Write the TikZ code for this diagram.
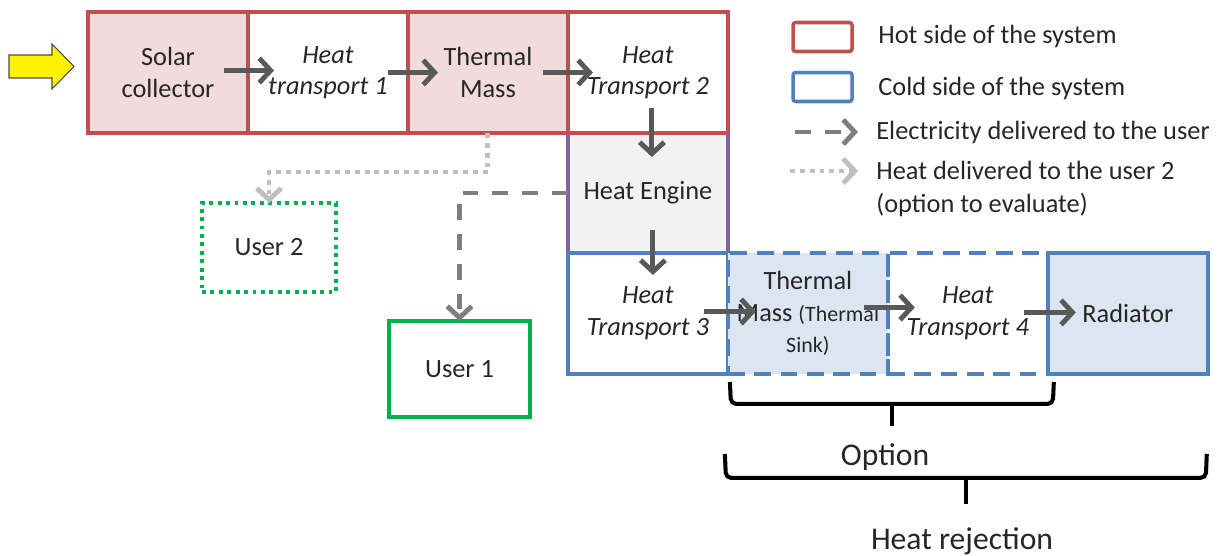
\documentclass[tikz,border=0pt]{standalone}
\usepackage{fontspec}
\setmainfont{Carlito}
\usetikzlibrary{calc,positioning,arrows.meta}

\definecolor{hotred}{HTML}{C0504D}
\definecolor{hotfill}{HTML}{F2DCDB}
\definecolor{coldblue}{HTML}{4F81BD}
\definecolor{coldfill}{HTML}{DCE6F2}
\definecolor{engfill}{HTML}{F2F2F2}
\definecolor{engpurple}{HTML}{8064A2}
\definecolor{usergreen}{HTML}{00B050}
\definecolor{flowgray}{HTML}{595959}
\definecolor{elecgray}{HTML}{7F7F7F}
\definecolor{heatgray}{HTML}{BFBFBF}
\definecolor{txt}{HTML}{262626}

\tikzset{
  >={Straight Barb[length=6.5pt,width=14pt]},
  block/.style={
    rectangle,
    outer sep=0pt, inner sep=2pt,
    minimum width=3.2cm,
    minimum height=2.42cm,
    align=center,
    text=txt,
    font=\fontsize{15}{18}\selectfont,
    line width=2pt},
  hotblock/.style={block, draw=hotred},
  coldblock/.style={block, draw=coldblue},
  optblock/.style={coldblock, dash pattern=on 9.5pt off 5.5pt},
  flow/.style={->, draw=flowgray, line width=2.8pt},
  elecline/.style={->, draw=elecgray, line width=2.8pt, dash pattern=on 9pt off 8pt},
  heatline/.style={->, draw=heatgray, line width=2.8pt, dash pattern=on 2.8pt off 2.8pt},
  userbox/.style={rectangle, draw=usergreen, outer sep=0pt, text=txt,
    font=\fontsize{15}{18}\selectfont},
  legendtext/.style={anchor=west, align=left, text=txt, inner sep=0pt,
    font=\fontsize{15}{19}\selectfont},
  legendbox/.style={rectangle, rounded corners=1.5pt, line width=2pt,
    minimum width=1.18cm, minimum height=0.58cm, outer sep=0pt},
  bracket/.style={draw=black, line width=2.3pt, rounded corners=3pt},
  bracelabel/.style={text=txt, font=\fontsize{18}{20}\selectfont},
}

\begin{document}
\begin{tikzpicture}
[
x=0.02cm, y=-0.02cm,
sunarrow/.style={draw=black!70, fill=yellow, line width=0.6pt, line join=miter},
]
\useasboundingbox (0,0) rectangle (1219,555);

%Nodes
\node[hotblock, fill=hotfill]   (solar)   at (168,72.5) {Solar\\collector};
\node[hotblock]                 (ht1)     [right=0pt of solar] {\textit{Heat}\\\textit{transport 1}};
\node[hotblock, fill=hotfill]   (tmass)   [right=0pt of ht1] {Thermal\\Mass};
\node[hotblock]                 (ht2)     [right=0pt of tmass] {\textit{Heat}\\\textit{Transport 2}};
\node[block, fill=engfill, minimum height=2.4cm] (engine) [below=0pt of ht2] {Heat Engine};
\node[coldblock, fill=white]    (ht3)     [below=0pt of engine] {\textit{Heat}\\\textit{Transport 3}};
\node[optblock, fill=coldfill]  (sink)    [right=0pt of ht3] {Thermal\\Mass {\fontsize{12.5}{15}\selectfont(Thermal}\\{\fontsize{12.5}{15}\selectfont Sink)}};
\node[optblock]                 (ht4)     [right=0pt of sink] {\textit{Heat}\\\textit{Transport 4}};
\node[coldblock, fill=coldfill] (radiator) [right=0pt of ht4] {Radiator};

\node[userbox, line width=2.2pt, dash pattern=on 2.2pt off 2.6pt,
  minimum width=2.68cm, minimum height=1.78cm] (user2) at (269,247.5) {User 2};
\node[userbox, line width=2pt,
  minimum width=2.82cm, minimum height=1.92cm] (user1) at (459.5,369) {User 1};

% legend
\node[legendbox, draw=hotred]   (hotkey)  at (822.5,37) {};
\node[legendbox, draw=coldblue] (coldkey) at (822.5,87) {};
\node[legendtext] (hotlabel)  at (878,36)  {Hot side of the system};
\node[legendtext] (coldlabel) at (878,88)  {Cold side of the system};
\node[legendtext] (eleclabel) at (876,132) {Electricity delivered to the user};
\node[legendtext] (heatlabel) at (876,189) {Heat delivered to the user 2\\(option to evaluate)};

\node[bracelabel] (optlabel) at (885,457) {Option};
\node[bracelabel] (rejlabel) at (962,541) {Heat rejection};

%Lines
\draw[sunarrow] (9,55) -- (52,55) -- (52,44) -- (74,66.5) -- (52,89)
  -- (52,78) -- (9,78) -- cycle;

\draw[engpurple, line width=2pt] (engine.north west) -- (engine.south west)
  (engine.north east) -- (engine.south east);
\draw[hotred, line width=2pt] (ht2.south west) -- (ht2.south east);
\draw[coldblue, line width=2pt] (ht3.north west) -- (ht3.north east);

\draw[flow] ($(solar.east)+(-24,-2)$) -- ($(ht1.west)+(26,-2)$);
\draw[flow] ($(ht1.east)+(-20,0)$)  -- ($(tmass.west)+(30,0)$);
\draw[flow] ($(tmass.east)+(-25,0)$) -- ($(ht2.west)+(25,0)$);
\draw[flow] ($(ht2.south)+(4,-25)$) -- ($(engine.north)+(4,24)$);
\draw[flow] ($(engine.south)+(5,-23)$) -- ($(ht3.north)+(5,22)$);
\draw[flow] ($(ht3.east)+(-24,-2)$) -- ($(sink.west)+(28,-2)$);
\draw[flow] ($(sink.east)+(-24,-6)$) -- ($(ht4.west)+(27,-6)$);
\draw[flow] ($(ht4.east)+(-24,-1)$) -- ($(radiator.west)+(28,-1)$);

\draw[elecline] (engine.west) -| (user1.north);
\draw[heatline] (tmass.south) -- ++(0,39) -| (user2.north);

\draw[elecline] ($(eleclabel.west)+(-81,0)$) -- ($(eleclabel.west)+(-18,0)$);
\draw[heatline] ($(heatlabel.west)+(-86,-18)$) -- ($(heatlabel.west)+(-18,-18)$);

% braces
\coordinate (optL) at ($(sink.south west)+(2,8)$);
\coordinate (optR) at ($(ht4.south east)+(6,8)$);
\draw[bracket] (optL) -- ++(1,22) -- ($(optR)+(-1,22)$) -- (optR);
\draw[bracket] ($(optL)!0.5!(optR)+(0,20)$) -- ++(0,24);

\coordinate (rejL) at ($(ht3.south east)+(-3,80)$);
\coordinate (rejR) at ($(radiator.south east)+(-1,80)$);
\draw[bracket] (rejL) -- ++(1,24) -- ($(rejR)+(-1,24)$) -- (rejR);
\draw[bracket] ($(rejL)!0.5!(rejR)+(0,22)$) -- ++(0,28);

\end{tikzpicture}
\end{document}
